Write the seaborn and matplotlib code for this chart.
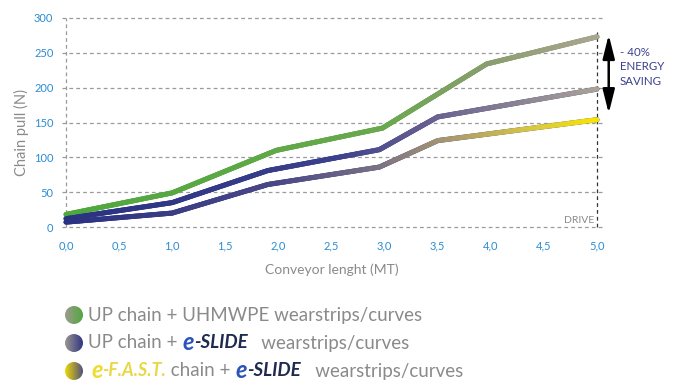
import numpy as np
import pandas as pd
import matplotlib
matplotlib.use('Agg')
import matplotlib.pyplot as plt
import seaborn as sns
from matplotlib.collections import LineCollection
from matplotlib.colors import LinearSegmentedColormap
from matplotlib.patches import Circle

# valori
uhmwpe_x = [0.0, 1.0, 1.98, 2.98, 3.96, 5.0]
uhmwpe_y = [18, 49, 110, 142, 234, 273]
eslide_x = [0.0, 1.0, 1.9, 2.95, 3.5, 5.0]
eslide_y = [12, 35, 81, 111, 158, 198]
efast_x = [0.0, 1.0, 1.9, 2.95, 3.5, 5.0]
efast_y = [7, 20, 61, 86, 124, 154]

xticks = [0.0, 0.5, 1.0, 1.5, 2.0, 2.5, 3.0, 3.5, 4.0, 4.5, 5.0]
xtick_labels = ['0,0', '0,5', '1,0', '1,5', '2,0', '2,5', '3,0', '3,5', '4,0', '4,5', '5,0']
yticks = [0, 50, 100, 150, 200, 250, 300]

series_names = ['UHMWPE', 'eSLIDE', 'eFAST']

df = pd.concat([
    pd.DataFrame({'x': uhmwpe_x, 'y': uhmwpe_y, 'serie': 'UHMWPE'}),
    pd.DataFrame({'x': eslide_x, 'y': eslide_y, 'serie': 'eSLIDE'}),
    pd.DataFrame({'x': efast_x, 'y': efast_y, 'serie': 'eFAST'}),
])

cmaps = {
    'UHMWPE': LinearSegmentedColormap.from_list('g', [(0, '#4ea83c'), (0.6, '#6aa84e'), (0.8, '#8c9c70'), (1, '#aca492')]),
    'eSLIDE': LinearSegmentedColormap.from_list('m', [(0, '#283382'), (0.5, '#3c3f8c'), (0.7, '#6a6290'), (1, '#aaa296')]),
    'eFAST': LinearSegmentedColormap.from_list('b', [(0, '#2b3282'), (0.4, '#4a4787'), (0.6, '#7d7482'), (0.72, '#a89870'), (0.88, '#d8c840'), (1, '#f8e400')]),
}

sns.set_style('white')
plt.rcParams['font.family'] = ['Lato', 'DejaVu Sans']

W, H = 675, 381
fig = plt.figure(figsize=(6.75, 3.81), dpi=100)
ax = fig.add_axes([61.75 / W, 1 - 227 / H, 540.6 / W, 209 / H])

grid_kw = dict(colors='#9a9a9a', linestyles=(0, (3, 2.5)), linewidth=0.9, clip_on=False)
ax.hlines(yticks, -0.04, 5.05, **grid_kw)
ax.vlines(0, 0, 300, **grid_kw)
ax.vlines(5, 0, 280, colors='#333333', linestyles=(0, (3, 2.5)), linewidth=0.9, clip_on=False)

sns.lineplot(data=df, x='x', y='y', hue='serie', palette={k: cmaps[k](0.0) for k in series_names},
             linewidth=3.6, legend=False, ax=ax, sort=False)

# gradiente lungo le linee
for name in series_names:
    sub = df[df['serie'] == name]
    xs, ys = [], []
    xv, yv = sub['x'].values, sub['y'].values
    for i in range(len(xv) - 1):
        t = np.linspace(0, 1, 40, endpoint=False)
        xs.extend(xv[i] + (xv[i + 1] - xv[i]) * t)
        ys.extend(yv[i] + (yv[i + 1] - yv[i]) * t)
    xs.append(xv[-1]); ys.append(yv[-1])
    pts = np.array([xs, ys]).T.reshape(-1, 1, 2)
    segs = np.concatenate([pts[:-1], pts[1:]], axis=1)
    lc = LineCollection(segs, cmap=cmaps[name], norm=plt.Normalize(0, 5), linewidth=3.6,
                        capstyle='round', joinstyle='round', clip_on=False, zorder=3)
    lc.set_array(np.array(xs[:-1]))
    ax.add_collection(lc)

ax.set_xlim(-0.04, 5.05)
ax.set_ylim(0, 300)
ax.set_xticks(xticks)
ax.set_xticklabels(xtick_labels)
ax.set_yticks(yticks)
ax.tick_params(axis='both', length=0, labelsize=8, labelcolor='#2a8cd2')
ax.tick_params(axis='x', pad=9.5)
ax.tick_params(axis='y', pad=6)
for s in ax.spines.values():
    s.set_visible(False)
ax.set_xlabel('Conveyor lenght (MT)', fontsize=10, color='#8a8a8a', labelpad=9)
ax.set_ylabel('Chain pull (N)', fontsize=10.5, color='#8a8a8a')
ax.yaxis.set_label_coords((29 - 61.75) / 540.6, (227 - 132) / 209)

ax.text(4.97, 10, 'DRIVE', ha='right', va='center', fontsize=7.5, color='#8a8a8a')
ax.annotate('', xy=(5.11, 276), xytext=(5.11, 163), annotation_clip=False,
            arrowprops=dict(arrowstyle='<|-|>,head_length=0.8,head_width=0.2', mutation_scale=18,
                            lw=1.8, color='black', shrinkA=0, shrinkB=0))
ax.text(5.215, 259, '- 40%\nENERGY\nSAVING', ha='left', va='top', fontsize=8.3,
        color='#3a3f8f', linespacing=1.4, clip_on=False)

# legenda
legend_grad = [('#a09a90', '#4ea83c'), ('#a09a90', '#2b3282'), ('#f5e000', '#4a4a80')]
rows_y = [315, 343, 371]
for (c0, c1), yp in zip(legend_grad, rows_y):
    cax = fig.add_axes([(74 - 10) / W, (H - yp - 10) / H, 20 / W, 20 / H])
    cax.set_xlim(-10, 10); cax.set_ylim(-10, 10)
    cax.axis('off')
    cm = LinearSegmentedColormap.from_list('c', [c0, c1])
    im = cax.imshow(np.tile(np.linspace(0, 1, 50), (50, 1)), cmap=cm, extent=(-10, 10, -10, 10), aspect='auto')
    circ = Circle((0, 0), 9, transform=cax.transData)
    im.set_clip_path(circ)

gray = '#8a8a8a'
leg_fs = 13.5
renderer = fig.canvas.get_renderer()


def rich_row(parts, x, y):
    for s, kw in parts:
        t = fig.text(x / W, 1 - y / H, s, va='center', ha='left', **kw)
        x += t.get_window_extent(renderer).width
    return x


plain = dict(fontsize=leg_fs, color=gray)
logo_e = dict(fontsize=17, color='#2a55b8', fontweight='bold', style='italic')
logo = dict(fontsize=13.5, color='#1e2a50', fontweight='bold', style='italic')
fast_e = dict(fontsize=17, color='#eedc30', fontweight='bold', style='italic')
fast = dict(fontsize=13, color='#e8d848', fontweight='bold', style='italic')

rich_row([('UP chain + UHMWPE wearstrips/curves', plain)], 88, rows_y[0])
rich_row([('UP chain + ', plain), ('e', logo_e), ('-SLIDE', logo), ('   wearstrips/curves', plain)], 88, rows_y[1])
rich_row([('e', fast_e), ('-F.A.S.T.', fast), (' chain + ', plain), ('e', logo_e), ('-SLIDE', logo),
          ('   wearstrips/curves', plain)], 91, rows_y[2])

plt.savefig('out.png', dpi=100)
